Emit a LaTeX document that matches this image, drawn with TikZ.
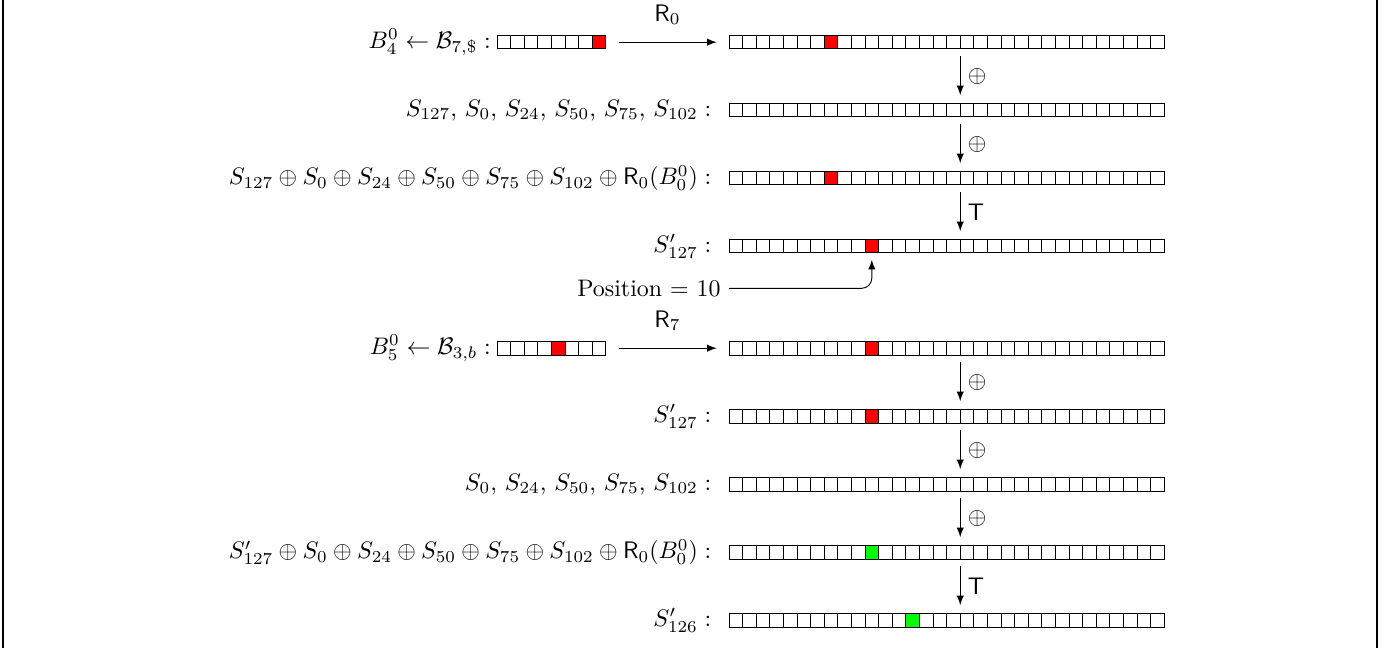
\documentclass[tikz,border=0pt]{standalone}
\usetikzlibrary{positioning,arrows}

% one row of square cells: name, left edge, y, last index, marked cell, colour
\newcommand{\cellrow}[6]{%
  \foreach \i in {0,...,#4} {
    \ifnum\i=#5 \def\cellfill{#6}\else\def\cellfill{white}\fi
    \node (#1-\i) [cell, fill=\cellfill] at ({#2+0.1+0.2*\i},#3) {};
  }%
}

\begin{document}
\begin{tikzpicture}[
    cell/.style={rectangle, draw, minimum size=0.2cm, inner sep=0pt, outer sep=0pt},
    rowtext/.style={inner sep=1pt},
    arrowstyle/.style={draw, -latex},
    opstep/.style={draw, -latex, shorten <=1mm, shorten >=1.2mm},
    oplabel/.style={right, inner sep=3pt}
]
\useasboundingbox (0,0) rectangle (20.44,-9.53);
\draw[line width=0.8pt] (0.04,0) -- (0.04,-9.53);
\draw[line width=0.8pt] (20.25,0) -- (20.25,-9.53);

% first block
\cellrow{SrcA}{7.31}{-0.62}{7}{7}{red}
\cellrow{RowA}{10.72}{-0.62}{31}{7}{red}
\cellrow{RowB}{10.72}{-1.62}{31}{-1}{red}
\cellrow{RowC}{10.72}{-2.62}{31}{7}{red}
\cellrow{RowD}{10.72}{-3.62}{31}{10}{red}

\node (TextSrcA) [rowtext, left=0.5mm of SrcA-0] {$B_4^0 \leftarrow \mathcal{B}_{7,\$}:$};
\node (TextB) [rowtext, left=2.2mm of RowB-0] {$S_{127}$, $S_0$, $S_{24}$, $S_{50}$, $S_{75}$, $S_{102}:$};
\node (TextC) [rowtext, left=2.2mm of RowC-0]
  {$S_{127}\oplus S_0\oplus S_{24}\oplus S_{50}\oplus S_{75}\oplus S_{102}\oplus \mathsf{R}_0(B_0^0):$};
\node (TextD) [rowtext, left=2.2mm of RowD-0] {$S'_{127}:$};

\draw[arrowstyle, shorten <=1.9mm, shorten >=1.8mm] (SrcA-7.east)
  -- node[above=1.3mm] {$\mathsf{R}_0$} (RowA-0.west);
\draw[opstep] (RowA-17.south west) -- node[oplabel] {$\oplus$} (RowB-17.north west);
\draw[opstep] (RowB-17.south west) -- node[oplabel] {$\oplus$} (RowC-17.north west);
\draw[opstep] (RowC-17.south west) -- node[oplabel] {$\mathsf{T}$} (RowD-17.north west);

\node (Position) [anchor=east] at (10.72,-4.24) {Position $=$ 10};
\draw[arrowstyle, rounded corners=0.15cm] (Position.east) -| ([yshift=-1mm]RowD-10.south);

% second block
\cellrow{SrcE}{7.31}{-5.12}{7}{4}{red}
\cellrow{RowE}{10.72}{-5.12}{31}{10}{red}
\cellrow{RowF}{10.72}{-6.12}{31}{10}{red}
\cellrow{RowG}{10.72}{-7.12}{31}{-1}{red}
\cellrow{RowH}{10.72}{-8.12}{31}{10}{green}
\cellrow{RowI}{10.72}{-9.12}{31}{13}{green}

\node (TextSrcE) [rowtext, left=0.5mm of SrcE-0] {$B_5^0 \leftarrow \mathcal{B}_{3,b}:$};
\node (TextF) [rowtext, left=2.2mm of RowF-0] {$S'_{127}:$};
\node (TextG) [rowtext, left=2.2mm of RowG-0] {$S_0$, $S_{24}$, $S_{50}$, $S_{75}$, $S_{102}:$};
\node (TextH) [rowtext, left=2.2mm of RowH-0]
  {$S'_{127}\oplus S_0\oplus S_{24}\oplus S_{50}\oplus S_{75}\oplus S_{102}\oplus \mathsf{R}_0(B_0^0):$};
\node (TextI) [rowtext, left=2.2mm of RowI-0] {$S'_{126}:$};

\draw[arrowstyle, shorten <=1.9mm, shorten >=1.8mm] (SrcE-7.east)
  -- node[above=1.3mm] {$\mathsf{R}_7$} (RowE-0.west);
\draw[opstep] (RowE-17.south west) -- node[oplabel] {$\oplus$} (RowF-17.north west);
\draw[opstep] (RowF-17.south west) -- node[oplabel] {$\oplus$} (RowG-17.north west);
\draw[opstep] (RowG-17.south west) -- node[oplabel] {$\oplus$} (RowH-17.north west);
\draw[opstep] (RowH-17.south west) -- node[oplabel] {$\mathsf{T}$} (RowI-17.north west);
\end{tikzpicture}
\end{document}
